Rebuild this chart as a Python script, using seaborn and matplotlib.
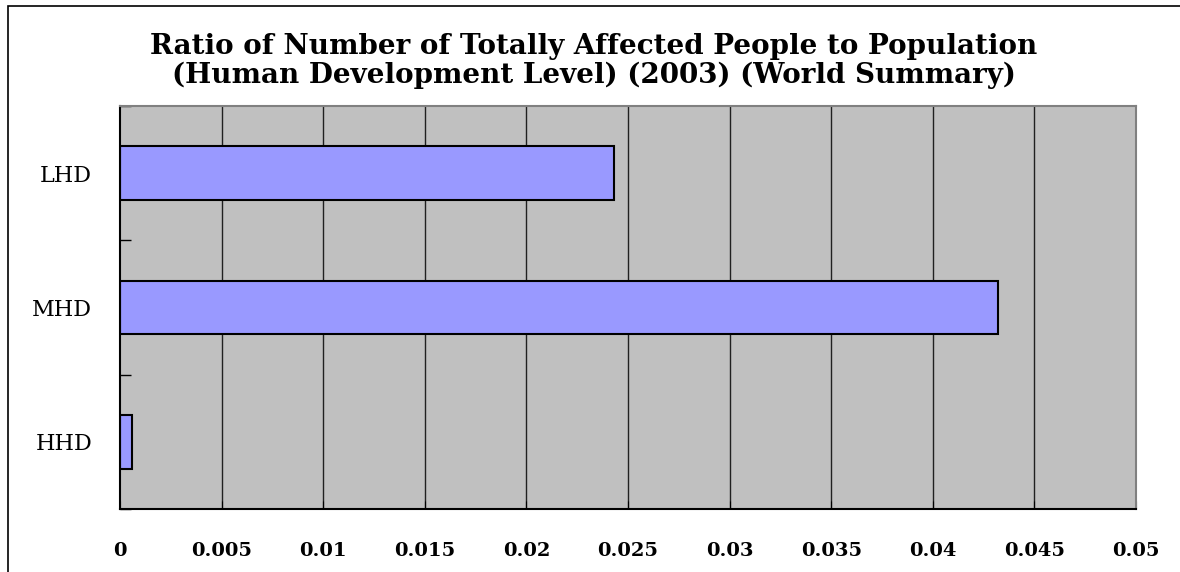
import matplotlib
matplotlib.use("Agg")
import matplotlib.pyplot as plt
import matplotlib.patches as mpatches
import seaborn as sns
import pandas as pd
import numpy as np

# values
levels = ["LHD", "MHD", "HHD"]
ratios = [0.0243, 0.0432, 0.0006]
x_ticks = [0, 0.005, 0.01, 0.015, 0.02, 0.025, 0.03, 0.035, 0.04, 0.045, 0.05]
x_labels = ["0", "0.005", "0.01", "0.015", "0.02", "0.025", "0.03", "0.035", "0.04", "0.045", "0.05"]
title = ("Ratio of Number of Totally Affected People to Population\n"
         "(Human Development Level) (2003) (World Summary)")

df = pd.DataFrame({"level": levels, "ratio": ratios})

sns.set_style("white")
plt.rcParams["font.family"] = ["DejaVu Serif"]
plt.rcParams["text.color"] = "black"
plt.rcParams["xtick.color"] = "black"
plt.rcParams["ytick.color"] = "black"

fig = plt.figure(figsize=(11.8, 5.72), dpi=100)
ax = fig.add_axes([120 / 1180, 1 - 509 / 572, (1136 - 120) / 1180, (509 - 106) / 572])

sns.barplot(data=df, x="ratio", y="level", order=levels, orient="h",
            color="#9999FF", edgecolor="black", linewidth=1.5, width=0.4,
            saturation=1, ax=ax)

ax.set_facecolor("#C0C0C0")
ax.set_xlim(0, 0.05)
ax.set_ylim(2.5, -0.5)
ax.set_xticks(x_ticks)
ax.set_xticklabels(x_labels, fontsize=14, fontweight="bold")
ax.set_yticks(range(len(levels)))
ax.set_yticklabels(levels, fontsize=16)
ax.set_yticks([-0.5, 0.5, 1.5, 2.5], minor=True)
ax.tick_params(axis="y", which="major", left=True, length=0, pad=20)
ax.tick_params(axis="y", which="minor", left=True, length=8, direction="in", width=1)
ax.tick_params(axis="x", which="major", bottom=True, length=6, direction="in", pad=24)
ax.set_xlabel("")
ax.set_ylabel("")

ax.grid(False)
for xv in x_ticks[1:-1]:
    ax.axvline(xv, color="#202020", linewidth=1, zorder=0.5)

for side in ["left", "bottom"]:
    ax.spines[side].set_color("black")
    ax.spines[side].set_linewidth(1.5)
for side in ["top", "right"]:
    ax.spines[side].set_color("#808080")
    ax.spines[side].set_linewidth(1.5)
    ax.spines[side].set_visible(True)

fig.text(594 / 1180, 1 - 61 / 572, title, ha="center", va="center",
         fontsize=20, fontweight="bold", linespacing=1.1)

# outer chart frame, clipped by the picture at right and bottom
frame = mpatches.Rectangle((8 / 1180, -0.1), 1.2, 1 - 6 / 572 + 0.1,
                           transform=fig.transFigure, fill=False,
                           edgecolor="black", linewidth=1.2)
fig.patches.append(frame)

fig.savefig("out.png", dpi=100)
